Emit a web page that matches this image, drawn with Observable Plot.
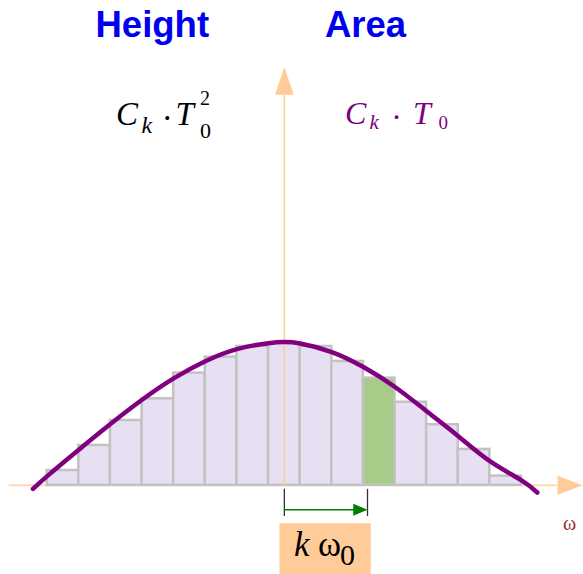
<!DOCTYPE html>
<html>
<head>
<meta charset="utf-8">
<script src="https://cdn.jsdelivr.net/npm/d3@7"></script>
<script src="https://cdn.jsdelivr.net/npm/@observablehq/plot@0.6"></script>
<style>
  html, body { margin: 0; padding: 0; background: #ffffff; }
  svg { display: block; }
</style>
</head>
<body>
<div id="chart"></div>
<script>
// Harmonic index k of each rectangle (centred on k·ω0) and its height C_k·T0²
const harmonics = [-7, -6, -5, -4, -3, -2, -1, 0, 1, 2, 3, 4, 5, 6, 7];
const heights   = [0.104, 0.28, 0.455, 0.607, 0.787, 0.899, 0.974, 0.997,
                   0.974, 0.869, 0.752, 0.583, 0.425, 0.252, 0.065];
const highlightK = 3;

// Continuous spectrum envelope
const envX = [-7.95, -7.5, -6.5, -5.5, -4.5, -3.5, -2.5, -1.5, -0.5, 0,
              0.5, 1.5, 2.5, 3.5, 4.5, 5.5, 6.5, 7.5, 8.0];
const envY = [-0.025, 0.065, 0.25, 0.43, 0.6, 0.75, 0.87, 0.955, 0.997, 1.005,
              0.995, 0.935, 0.83, 0.69, 0.52, 0.345, 0.17, 0.035, -0.05];

// Length of the k·ω0 marker along the frequency axis
const kOmega0 = 2.63;

const bars = harmonics.map((k, i) => ({k, h: heights[i]}));
const envelope = envX.map((x, i) => ({x, y: envY[i]}));

const peach = "#ffcc99";
const lavender = "#e7e0f2";
const green = "#a8cb8a";

// frequency / amplitude axes with filled arrowheads
const hAxis = {x1: -8.7, x2: 8.64, tip: 9.43, half: 0.067};
const vAxis = {y2: 2.739, tip: 2.933, half: 0.296};
const hHead = [{x: hAxis.x2, y: hAxis.half}, {x: hAxis.tip, y: 0}, {x: hAxis.x2, y: -hAxis.half}];
const vHead = [{x: -vAxis.half, y: vAxis.y2}, {x: 0, y: vAxis.tip}, {x: vAxis.half, y: vAxis.y2}];

// k·ω0 dimension arrow under the axis
const dimY = -0.171;
const gHead = [{x: kOmega0 - 0.45, y: dimY + 0.042}, {x: kOmega0, y: dimY}, {x: kOmega0 - 0.45, y: dimY - 0.042}];

const plot = Plot.plot({
  width: 583,
  height: 574,
  margin: 0,
  x: {domain: [-8.977, 9.461], axis: null},
  y: {domain: [-0.625, 3.4], axis: null},
  style: {background: "#ffffff"},
  marks: [
    Plot.ruleY([0], {x1: hAxis.x1, x2: hAxis.x2, stroke: "#ffd8b0", strokeWidth: 2}),
    Plot.line(hHead, {x: "x", y: "y", fill: peach, stroke: "none"}),
    Plot.rect(bars.filter(d => d.k !== highlightK), {
      x1: d => d.k - 0.5, x2: d => d.k + 0.5, y1: 0, y2: "h",
      fill: lavender, stroke: "#c2c2c2", strokeWidth: 2.5
    }),
    Plot.rect(bars.filter(d => d.k === highlightK), {
      x1: d => d.k - 0.5, x2: d => d.k + 0.5, y1: 0, y2: "h",
      fill: green, stroke: "#c2c2c2", strokeWidth: 2.5
    }),
    Plot.ruleX([0], {y1: 0, y2: vAxis.y2, stroke: peach, strokeWidth: 1.5}),
    Plot.line(vHead, {x: "x", y: "y", fill: peach, stroke: "none"}),
    Plot.line(envelope, {x: "x", y: "y", stroke: "#800080", strokeWidth: 4.5,
      curve: "natural", strokeLinecap: "round"}),
    Plot.ruleX([0, kOmega0], {y1: -0.028, y2: -0.218, stroke: "#333333", strokeWidth: 1.3}),
    Plot.ruleY([dimY], {x1: 0, x2: kOmega0 - 0.4, stroke: "#008000", strokeWidth: 1.5}),
    Plot.line(gHead, {x: "x", y: "y", fill: "#008000", stroke: "none"}),
    Plot.rect([kOmega0], {x1: -0.14, x2: d => d + 0.12, y1: -0.269, y2: -0.625, fill: peach})
  ]
});

document.getElementById("chart").appendChild(plot);

// Rich text (sub/superscripts) drawn on top of the plot
const svg = d3.select(plot);
const serif = "'Liberation Serif', 'DejaVu Serif', 'Times New Roman', serif";
const sans = "'Liberation Sans', Arial, sans-serif";

function piece(x, y, t, size, opts = {}) {
  svg.append("text")
    .attr("x", x).attr("y", y)
    .style("font-family", opts.family || serif)
    .style("font-size", size + "px")
    .style("font-style", opts.italic ? "italic" : "normal")
    .style("font-weight", opts.bold ? "bold" : "normal")
    .attr("text-anchor", opts.anchor || "start")
    .attr("fill", opts.fill || "#000000")
    .text(t);
}

// Column headings
piece(95.5, 37, "Height", 36.5, {family: sans, bold: true, fill: "#0000f0"});
piece(325, 37, "Area", 36.5, {family: sans, bold: true, fill: "#0000f0"});

// C_k · T_0^2
piece(116, 125, "C", 33, {italic: true});
piece(141.5, 133, "k", 24, {italic: true});
piece(167.3, 128.5, "\u00b7", 33, {anchor: "middle"});
piece(175.5, 125, "T", 33, {italic: true});
piece(200, 105, "2", 20);
piece(200, 138, "0", 22);

// C_k · T_0
const purple = "#800080";
piece(345, 124, "C", 32, {italic: true, fill: purple});
piece(369.5, 129, "k", 21, {italic: true, fill: purple});
piece(396.7, 128, "\u00b7", 32, {anchor: "middle", fill: purple});
piece(413, 124, "T", 32, {italic: true, fill: purple});
piece(438.5, 129, "0", 19, {fill: purple});

// k ω0 label in the box
piece(294, 556, "k", 35, {italic: true});
piece(318, 556, "\u03c9", 35);
piece(340, 565, "0", 30);

// frequency axis label
piece(563, 530, "\u03c9", 20, {fill: "#9b3030"});
</script>
</body>
</html>
